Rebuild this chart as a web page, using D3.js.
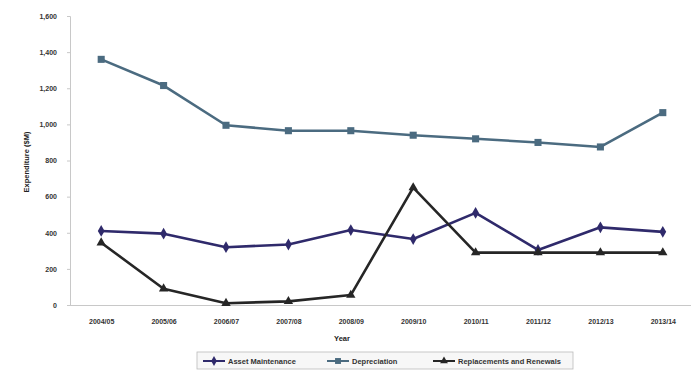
<!DOCTYPE html>
<html>
<head>
<meta charset="utf-8">
<script src="https://cdn.jsdelivr.net/npm/d3@7"></script>
<style>
  html, body { margin: 0; padding: 0; background: #fff; }
  svg { display: block; font-family: "Liberation Sans", Arial, sans-serif; }
</style>
</head>
<body>
<svg id="chart" width="691" height="373"></svg>
<script>
// Financial years on the horizontal axis
const years = ["2004/05", "2005/06", "2006/07", "2007/08", "2008/09",
               "2009/10", "2010/11", "2011/12", "2012/13", "2013/14"];

// Expenditure ($M) per series
const assetMaintenance = [410, 395, 320, 335, 415, 365, 510, 305, 430, 405];
const depreciation     = [1360, 1215, 995, 965, 965, 940, 920, 900, 875, 1065];
const replacements     = [345, 90, 10, 20, 55, 650, 290, 290, 290, 290];

const yTicks = [0, 200, 400, 600, 800, 1000, 1200, 1400, 1600];

const seriesNames = ["Asset Maintenance", "Depreciation", "Replacements and Renewals"];

const series = [
  { name: seriesNames[0], values: assetMaintenance, color: "#2f2a6b", marker: d3.symbolDiamond, size: 40 },
  { name: seriesNames[1], values: depreciation,     color: "#4b6b80", marker: d3.symbolSquare,  size: 50 },
  { name: seriesNames[2], values: replacements,     color: "#262626", marker: d3.symbolTriangle, size: 38 }
];

const svg = d3.select("#chart");

const plot = { left: 70, right: 694, top: 16, bottom: 305 };

const x = d3.scalePoint().domain(years).range([plot.left, plot.right]).padding(0.5);
const y = d3.scaleLinear().domain([0, 1600]).range([plot.bottom, plot.top]);

// Y axis
const yAxis = svg.append("g")
  .attr("transform", `translate(${plot.left},0)`)
  .call(d3.axisLeft(y).tickValues(yTicks).tickSize(3).tickFormat(d3.format(",")));
yAxis.select(".domain").attr("stroke", "#c8c8c8");
yAxis.selectAll(".tick line").attr("stroke", "#c8c8c8");
yAxis.selectAll(".tick text")
  .attr("x", -13)
  .attr("fill", "#333")
  .style("font-size", "7px")
  .style("font-weight", "bold");

// X axis
const xAxis = svg.append("g")
  .attr("transform", `translate(0,${plot.bottom})`)
  .call(d3.axisBottom(x).tickSize(0).tickSizeOuter(0));
xAxis.select(".domain").attr("stroke", "#c8c8c8").attr("d", `M${plot.left},0.5H691`);
xAxis.selectAll(".tick text")
  .attr("y", 14)
  .attr("fill", "#333")
  .style("font-size", "7px")
  .style("font-weight", "bold");

// Axis titles
svg.append("text")
  .attr("x", 342).attr("y", 341)
  .attr("text-anchor", "middle")
  .attr("fill", "#222")
  .style("font-size", "7.5px").style("font-weight", "bold")
  .text("Year");

svg.append("text")
  .attr("transform", "translate(29,162) rotate(-90)")
  .attr("text-anchor", "middle")
  .attr("fill", "#222")
  .style("font-size", "7.5px").style("font-weight", "bold")
  .text("Expenditure ($M)");

// Lines and markers
const line = d3.line().x((d, i) => x(years[i])).y(d => y(d));

series.forEach(s => {
  svg.append("path")
    .datum(s.values)
    .attr("fill", "none")
    .attr("stroke", s.color)
    .attr("stroke-width", 2.6)
    .attr("stroke-linejoin", "round")
    .attr("d", line);

  svg.append("g").selectAll("path")
    .data(s.values)
    .join("path")
    .attr("transform", (d, i) => `translate(${x(years[i])},${y(d)})`)
    .attr("d", d3.symbol().type(s.marker).size(s.size))
    .attr("fill", s.color);
});

// Legend
const legend = svg.append("g").attr("transform", "translate(197,352)");
legend.append("rect")
  .attr("width", 376).attr("height", 17)
  .attr("fill", "#f7f7f7")
  .attr("stroke", "#bbb").attr("stroke-width", 0.8);

const legendX = [6, 130, 236];
series.forEach((s, i) => {
  const g = legend.append("g").attr("transform", `translate(${legendX[i]},9)`);
  g.append("line").attr("x1", 0).attr("x2", 22).attr("y1", 0).attr("y2", 0)
    .attr("stroke", s.color).attr("stroke-width", 2);
  g.append("path").attr("transform", "translate(11,0)")
    .attr("d", d3.symbol().type(s.marker).size(s.size * 0.7))
    .attr("fill", s.color);
  g.append("text").attr("x", 25).attr("y", 2.5)
    .attr("fill", "#333")
    .style("font-size", "7.5px").style("font-weight", "bold")
    .text(s.name);
});
</script>
</body>
</html>
